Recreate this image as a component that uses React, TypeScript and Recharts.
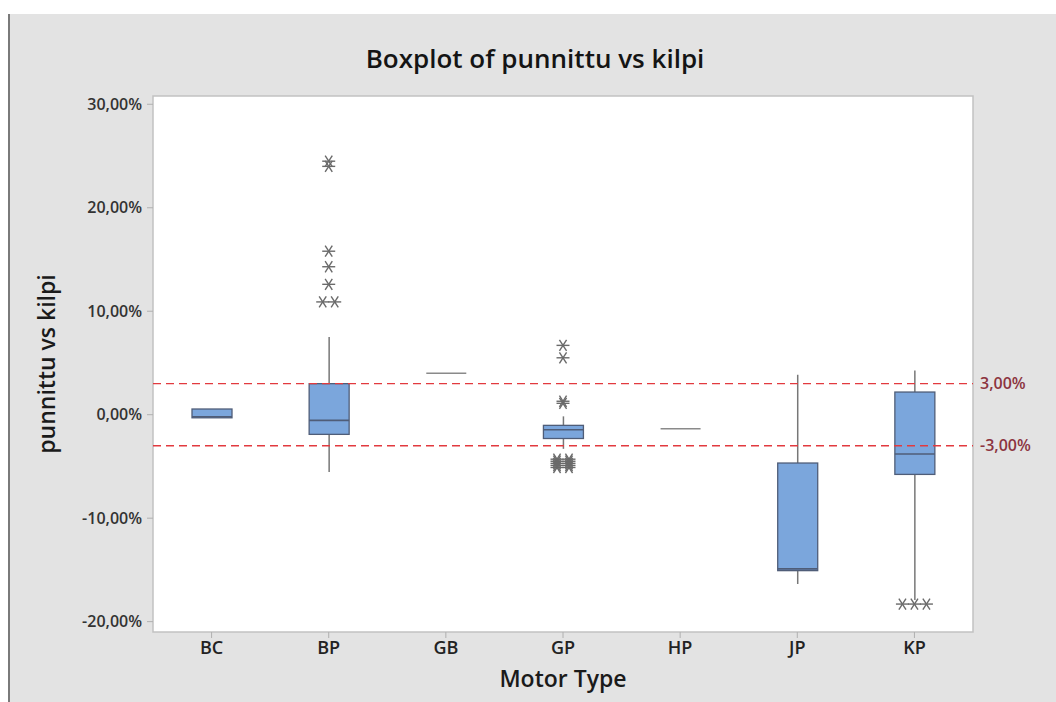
import { ComposedChart, Bar, Scatter, XAxis, YAxis, ReferenceLine, ReferenceArea } from 'recharts';

const categories = ['BC', 'BP', 'GB', 'GP', 'HP', 'JP', 'KP'];
const whiskerLow = [-0.3, -5.54, 4.0, -3.3, -1.35, -16.36, -17.9];
const q1 = [-0.3, -1.9, 4.0, -2.3, -1.35, -15.07, -5.77];
const median = [-0.2, -0.55, 4.0, -1.45, -1.35, -14.9, -3.8];
const q3 = [0.55, 3.0, 4.0, -1.03, -1.35, -4.67, 2.19];
const whiskerHigh = [0.55, 7.5, 4.0, -0.16, -1.35, 3.86, 4.28];

// outliers: category, value, how many at the same value
const outlierType = ['BP', 'BP', 'BP', 'BP', 'BP', 'BP', 'GP', 'GP', 'GP', 'GP', 'GP', 'GP', 'GP', 'GP', 'GP', 'KP'];
const outlierValue = [24.0, 24.5, 15.8, 14.3, 12.6, 10.9, 6.7, 5.5, 1.3, 1.1, -4.3, -4.5, -4.7, -4.9, -5.1, -18.3];
const outlierCount = [1, 1, 1, 1, 1, 2, 1, 1, 1, 1, 2, 2, 2, 2, 2, 3];

const yTicks = [-20, -10, 0, 10, 20, 30];
const limits = [3, -3];

const data = categories.map((type, i) => ({
  type,
  lo: whiskerLow[i],
  q1: q1[i],
  med: median[i],
  q3: q3[i],
  hi: whiskerHigh[i],
}));

const outliers = outlierType.map((type, i) => ({ type, value: outlierValue[i], n: outlierCount[i] }));

const pct = (v: number) => v.toFixed(2).replace('.', ',') + '%';
const FONT = '"Open Sans", sans-serif';

const BoxShape = (props: any) => {
  const { x, y, width, height, payload } = props;
  const top = Math.min(y, y + height);
  const h = Math.abs(height);
  const span = payload.hi - payload.lo;
  const py = (v: number) => (span === 0 ? top : top + ((payload.hi - v) / span) * h);
  const cx = x + width / 2;
  if (span === 0 && payload.q3 === payload.q1) {
    return <line x1={x} x2={x + width} y1={top} y2={top} stroke="#8a8a8a" strokeWidth={1.5} />;
  }
  return (
    <g>
      <line x1={cx} x2={cx} y1={py(payload.hi)} y2={py(payload.q3)} stroke="#777" strokeWidth={1.5} />
      <line x1={cx} x2={cx} y1={py(payload.q1)} y2={py(payload.lo)} stroke="#777" strokeWidth={1.5} />
      <rect x={x} y={py(payload.q3)} width={width} height={py(payload.q1) - py(payload.q3)} fill="#7ba6dc" stroke="#4f5d78" strokeWidth={1.3} />
      <line x1={x} x2={x + width} y1={py(payload.med)} y2={py(payload.med)} stroke="#4f5d78" strokeWidth={1.6} />
    </g>
  );
};

const Star = (props: any) => {
  const { cx, cy, payload } = props;
  const n = payload.n;
  const r = 6.5;
  const gap = 12;
  const stars = [];
  for (let k = 0; k < n; k++) {
    const sx = cx + (k - (n - 1) / 2) * gap;
    stars.push(
      <g key={k} stroke="#6a6a6a" strokeWidth={1.4}>
        <line x1={sx - r} x2={sx + r} y1={cy} y2={cy} />
        <line x1={sx - r * 0.55} x2={sx + r * 0.55} y1={cy - r * 0.85} y2={cy + r * 0.85} />
        <line x1={sx - r * 0.55} x2={sx + r * 0.55} y1={cy + r * 0.85} y2={cy - r * 0.85} />
      </g>
    );
  }
  return <g>{stars}</g>;
};

export default function App() {
  return (
    <div style={{ position: 'absolute', left: 0, top: 0, width: 1056, height: 702, background: '#fff', overflow: 'hidden' }}>
      <div style={{ position: 'absolute', left: 8, top: 14, width: 1048, height: 688, background: '#e3e3e3', borderLeft: '2px solid #7a7a7a' }} />
      <div style={{ position: 'absolute', left: 0, top: 40, width: 1070, textAlign: 'center', fontFamily: FONT, fontWeight: 600, fontSize: 26, color: '#141414' }}>
        Boxplot of punnittu vs kilpi
      </div>
      <div style={{ position: 'absolute', left: 0, top: 0 }}>
        <ComposedChart width={1056} height={702} data={data} margin={{ top: 96, right: 83, bottom: 0, left: 33 }}>
          <ReferenceArea y1={-21} y2={30.8} fill="#fff" fillOpacity={1} stroke="#c2c2c2" strokeWidth={1.5} />
          <XAxis
            dataKey="type"
            type="category"
            allowDuplicatedCategory={false}
            height={70}
            axisLine={false}
            tickLine={{ stroke: '#b0b0b0' }}
            tickSize={6}
            tick={{ fontFamily: FONT, fontWeight: 600, fontSize: 18, fill: '#222' }}
            tickMargin={3}
            label={{
              content: (p: any) => (
                <text x={p.viewBox.x + p.viewBox.width / 2} y={p.viewBox.y + 55} textAnchor="middle" fontFamily={FONT} fontWeight={600} fontSize={23} fill="#1a1a1a">
                  Motor Type
                </text>
              ),
            }}
          />
          <YAxis
            type="number"
            domain={[-21, 30.8]}
            ticks={yTicks}
            width={120}
            axisLine={false}
            tickLine={{ stroke: '#b0b0b0' }}
            tickSize={6}
            tickMargin={5}
            tickFormatter={pct}
            tick={{ fontFamily: FONT, fontWeight: 600, fontSize: 16, fill: '#333' }}
            label={{
              content: (p: any) => (
                <text
                  x={46}
                  y={p.viewBox.y + p.viewBox.height / 2}
                  transform={`rotate(-90 46 ${p.viewBox.y + p.viewBox.height / 2})`}
                  textAnchor="middle"
                  dominantBaseline="central"
                  fontFamily={FONT}
                  fontWeight={600}
                  fontSize={23}
                  fill="#1a1a1a"
                >
                  punnittu vs kilpi
                </text>
              ),
            }}
          />
          {limits.map((v) => (
            <ReferenceLine
              key={v}
              y={v}
              stroke="#e23a3f"
              strokeWidth={1.4}
              strokeDasharray="8 5"
              label={{ value: pct(v), position: 'right', offset: 7, fill: '#8c3440', fontFamily: FONT, fontWeight: 600, fontSize: 16 }}
            />
          ))}
          <Bar dataKey={(d: any) => [d.lo, d.hi]} barSize={40} shape={<BoxShape />} minPointSize={0} isAnimationActive={false} />
          <Scatter data={outliers} dataKey="value" shape={<Star />} isAnimationActive={false} />
        </ComposedChart>
      </div>
    </div>
  );
}
